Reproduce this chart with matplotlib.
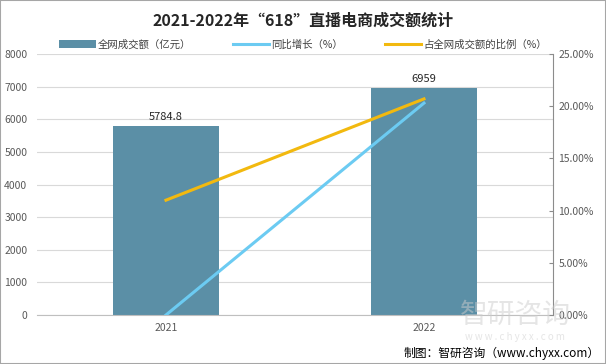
import matplotlib
matplotlib.use("Agg")
import matplotlib.pyplot as plt
import numpy as np

plt.rcParams['font.family'] = ['Noto Sans CJK SC', 'DejaVu Sans']

years = ["2021", "2022"]
gmv = [5784.8, 6959]
growth = [0.0, 20.3]
share = [11.0, 20.7]

bar_color = "#5b8fa6"
growth_color = "#6ccbf2"
share_color = "#f2b90f"
tick_color = "#595959"

fig = plt.figure(figsize=(6.06, 3.64), dpi=100)
ax = fig.add_axes([0.061, 0.1346, 0.8515, 0.717])
ax2 = ax.twinx()

x = np.arange(len(years))
bars = ax.bar(x, gmv, width=0.41, color=bar_color, zorder=2)
for xi, v in zip(x, gmv):
    ax.annotate(f"{v:g}", (xi, v), xytext=(0, 3), textcoords="offset points",
                ha="center", va="bottom", fontsize=8, color="#262626")

ax.set_xlim(-0.5, 1.5)
ax.set_ylim(0, 8000)
ax.set_yticks(range(0, 8001, 1000))
ax.set_xticks(x)
ax.set_xticklabels(years)
ax.grid(axis="y", color="#d9d9d9", linewidth=0.8, zorder=0)
ax.set_axisbelow(True)
for side in ["left", "right", "top"]:
    ax.spines[side].set_visible(False)
ax.spines["bottom"].set_color("#bfbfbf")
ax.tick_params(axis="both", length=0, labelsize=7.5, colors=tick_color, pad=6)
ax.tick_params(axis="y", pad=7)

l1, = ax2.plot(x, growth, color=growth_color, linewidth=2.2)
l2, = ax2.plot(x, share, color=share_color, linewidth=2.2)
ax2.set_ylim(0, 25)
ax2.set_yticks(np.arange(0, 25.1, 5))
ax2.set_yticklabels([f"{t:.2f}%" for t in np.arange(0, 25.1, 5)])
for side in ["left", "top", "bottom"]:
    ax2.spines[side].set_visible(False)
ax2.spines["right"].set_color("#8c8c8c")
ax2.tick_params(axis="y", direction="in", length=3, labelsize=7.5, colors=tick_color, pad=4)
ax2.tick_params(axis="y", color="#8c8c8c")

fig.text(0.5, 0.942, "2021-2022年“618”直播电商成交额统计", ha="center", va="center",
         fontsize=11.5, fontweight="bold", color="#262626")

handles = [bars.patches[0], l1, l2]
labels = ["全网成交额（亿元）", "同比增长（%）", "占全网成交额的比例（%）"]
fig.legend(handles, labels, loc="center", bbox_to_anchor=(0.5, 0.878),
           ncol=3, frameon=False, fontsize=7.5, handlelength=3.5, columnspacing=4,
           handletextpad=0.2, labelcolor="#404040")

# watermark
fig.text(0.85, 0.135, "智研咨询", ha="center", va="center", fontsize=20, color="#cccccc",
         alpha=0.5, zorder=0)
fig.text(0.85, 0.075, "w w w . c h y x x . c o m", ha="center", va="center", fontsize=7,
         color="#cccccc", alpha=0.5)
fig.text(0.99, 0.03, "制图：智研咨询（www.chyxx.com）", ha="right", va="center",
         fontsize=8.5, color="#000000")

fig.patches.append(plt.Rectangle((0, 0), 1, 1, transform=fig.transFigure, fill=False,
                                 edgecolor="#a6a6a6", linewidth=1.5))

fig.savefig("out.png", dpi=100)
